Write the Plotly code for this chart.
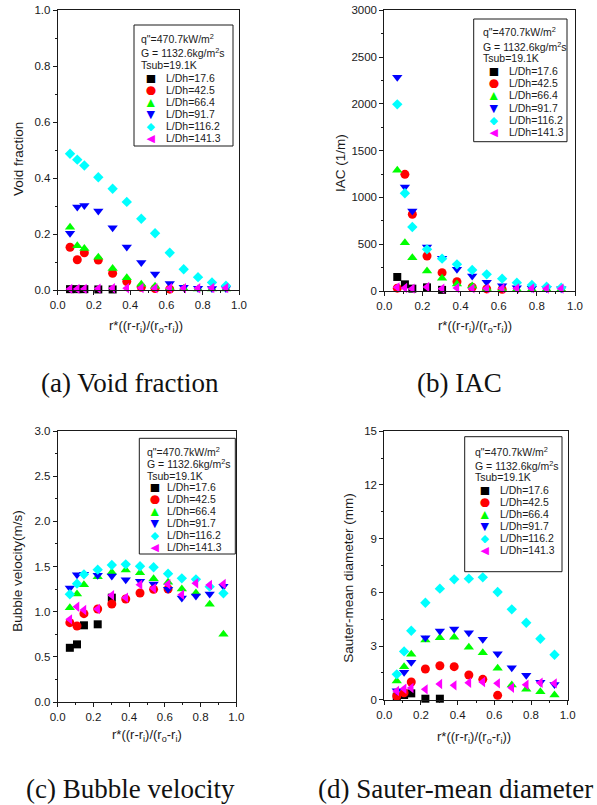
import plotly.graph_objects as go

r_star = [0.068, 0.108, 0.147, 0.224, 0.303, 0.381, 0.461, 0.537, 0.618, 0.695, 0.774, 0.851, 0.928]
series_names = ["L/Dh=17.6", "L/Dh=42.5", "L/Dh=66.4", "L/Dh=91.7", "L/Dh=116.2", "L/Dh=141.3"]
header_lines = ['q"=470.7kW/m<sup>2</sup>', 'G = 1132.6kg/m<sup>2</sup>s', 'Tsub=19.1K']

# Void fraction
void_176 = [0.003, 0.003, 0.003, 0.002, 0.002]
void_425 = [0.153, 0.108, 0.133, 0.107, 0.060, 0.030, 0.010, 0.005, 0.003]
void_664 = [0.224, 0.158, 0.148, 0.117, 0.077, 0.044, 0.021, 0.013, 0.006, 0.005, 0.004, 0.004, 0.004]
void_917 = [0.203, 0.297, 0.302, 0.282, 0.223, 0.154, 0.098, 0.057, 0.023, 0.010, 0.006, 0.005, 0.005]
void_1162 = [0.487, 0.466, 0.445, 0.403, 0.362, 0.315, 0.255, 0.203, 0.133, 0.074, 0.046, 0.027, 0.015]
void_1413 = [0.004, 0.004, 0.004, 0.005, 0.006, 0.006, 0.007, 0.006, 0.006, 0.006, 0.006, 0.007, 0.007]

# Interfacial area concentration (1/m)
iac_176 = [150, 71, 25, 39, 12]
iac_425 = [30, 1247, 820, 374, 196, 100, 40, 22, 18]
iac_664 = [1290, 517, 356, 214, 135, 75, 53, 28, 20, 18, 18, 18, 18]
iac_917 = [2284, 1112, 855, 470, 349, 232, 160, 93, 57, 36, 30, 26, 25]
iac_1162 = [1995, 1044, 684, 445, 346, 285, 224, 178, 132, 89, 64, 46, 36]
iac_1413 = [39, 32, 25, 43, 25, 32, 28, 28, 28, 28, 28, 25, 25]

# Bubble velocity (m/s)
vel_176 = [0.60, 0.638, 0.849, 0.86, 1.155]
vel_425 = [0.878, 0.841, 0.978, 1.03, 1.085, 1.140, 1.207, 1.247, 1.251]
vel_664 = [1.044, 1.196, 1.299, 1.387, 1.435, 1.461, 1.432, 1.365, 1.325, 1.251, 1.207, 1.081, 0.749]
vel_917 = [1.262, 1.41, 1.413, 1.402, 1.395, 1.354, 1.336, 1.306, 1.247, 1.151, 1.173, 1.196, 1.28]
vel_1162 = [1.192, 1.310, 1.413, 1.465, 1.517, 1.524, 1.502, 1.491, 1.421, 1.369, 1.358, 1.277, 1.203]
vel_1413 = [0.915, 1.055, 1.018, 1.03, 1.181, 1.155, 1.299, 1.258, 1.303, 1.188, 1.314, 1.295, 1.306]

# Sauter-mean diameter (mm)
smd_176 = [0.168, 0.261, 0.354, 0.056, 0.056]
smd_425 = [0.205, 0.391, 0.988, 1.714, 1.90, 1.845, 1.379, 1.137, 0.242]
smd_664 = [1.04, 1.845, 2.534, 3.335, 3.466, 3.484, 2.925, 2.627, 1.752, 0.82, 0.578, 0.447, 0.261]
smd_917 = [0.503, 1.528, 2.087, 3.466, 3.839, 3.95, 3.745, 3.373, 2.571, 1.789, 1.36, 0.969, 0.85]
smd_1162 = [1.416, 2.70, 3.857, 5.42, 6.205, 6.727, 6.764, 6.839, 6.019, 5.05, 4.30, 3.41, 2.516]
smd_1413 = [0.484, 0.615, 0.652, 0.578, 0.876, 0.801, 0.95, 0.988, 0.913, 0.671, 0.839, 0.95, 0.913]

x_ticks = [0.0, 0.2, 0.4, 0.6, 0.8, 1.0]
x_tick_labels = ["0.0", "0.2", "0.4", "0.6", "0.8", "1.0"]

colors = ["#000000", "#FF0000", "#00FF00", "#0000FF", "#00FFFF", "#FF00FF"]
symbols = ["square", "circle", "triangle-up", "triangle-down", "diamond", "triangle-left"]
sizes = [8, 9, 9, 9, 8, 9]
glyphs = ["\u25A0", "\u25CF", "\u25B2", "\u25BC", "\u25C6", "\u25C0"]
glyph_sizes = [11, 12, 11, 11, 11, 11]

XT = "r*((r-r<sub>i</sub>)/(r<sub>o</sub>-r<sub>i</sub>))"
panels = [
    dict(data=[void_176, void_425, void_664, void_917, void_1162, void_1413],
         ytitle="Void fraction", yrange=[0, 1.0], ydtick=0.2, yfmt=".1f",
         px=(57.7, 239.0), py=(10.3, 290.0),
         xtitle=XT, xt_pos=(146, 326), yt_pos=(18, 159),
         box=(134, 25, 233, 146), hx=140, hy=[38, 53, 65.5], sx=151, lx=165, ey0=78.3, estep=11.9,
         caption="(a) Void fraction", cap=(130, 383)),
    dict(data=[iac_176, iac_425, iac_664, iac_917, iac_1162, iac_1413],
         ytitle="IAC (1/m)", yrange=[0, 3000], ydtick=500, yfmt="d",
         px=(384.3, 575.0), py=(10.3, 291.0),
         xtitle=XT, xt_pos=(475, 326), yt_pos=(340, 163),
         box=(473.7, 19, 567, 141.7), hx=482, hy=[31.7, 46.7, 58.5], sx=493.7, lx=508, ey0=70.7, estep=12.3,
         caption="(b) IAC", cap=(459, 383)),
    dict(data=[vel_176, vel_425, vel_664, vel_917, vel_1162, vel_1413],
         ytitle="Bubble velocity(m/s)", yrange=[0, 3.0], ydtick=0.5, yfmt=".1f",
         px=(57.7, 236.3), py=(431.0, 702.0),
         xtitle="r*((r-r<sub>i</sub>)/(r<sub>o</sub>-r<sub>i</sub>)", xt_pos=(147, 735), yt_pos=(18, 570.7),
         box=(139.3, 438.3, 235.3, 554), hx=146, hy=[451.7, 463.3, 475.5], sx=155, lx=165.7, ey0=487.3, estep=11.9,
         caption="(c) Bubble velocity", cap=(130, 789)),
    dict(data=[smd_176, smd_425, smd_664, smd_917, smd_1162, smd_1413],
         ytitle="Sauter-mean diameter (mm)", yrange=[0, 15], ydtick=3, yfmt="d",
         px=(384.3, 567.7), py=(431.3, 699.7),
         xtitle=XT, xt_pos=(474, 737), yt_pos=(349, 577.7),
         box=(464.7, 436.7, 562, 571.7), hx=473.7, hy=[451.7, 465, 477], sx=485.3, lx=498.7, ey0=490, estep=11.9,
         caption="(d) Sauter-mean diameter", cap=(455, 789)),
]

W, H = 597, 805
ARIAL = "Arial, Liberation Sans, sans-serif"
INK = "#1a1a1a"


def fx(v):
    return v / W


def fy(v):
    return 1 - v / H


fig = go.Figure()
layout = dict(width=W, height=H, margin=dict(l=0, r=0, t=0, b=0),
              paper_bgcolor="white", plot_bgcolor="white", showlegend=False)
annotations = []
shapes = []
axfont = dict(family=ARIAL, size=11.5, color=INK)

for i, p in enumerate(panels):
    n = i + 1
    xa = "x" if n == 1 else f"x{n}"
    ya = "y" if n == 1 else f"y{n}"
    for k, vals in enumerate(p["data"]):
        fig.add_trace(go.Scatter(
            x=r_star[:len(vals)], y=vals, mode="markers", name=series_names[k],
            xaxis=xa, yaxis=ya,
            marker=dict(symbol=symbols[k], color=colors[k], size=sizes[k], line=dict(width=0)),
            cliponaxis=False))
    common = dict(showline=True, linecolor=INK, linewidth=1, mirror=True,
                  ticks="outside", ticklen=4, tickcolor=INK, showgrid=False,
                  zeroline=False, tickfont=axfont, automargin=False)
    layout["xaxis" if n == 1 else f"xaxis{n}"] = dict(
        common, domain=[fx(p["px"][0]), fx(p["px"][1])], range=[0, 1.0],
        tickvals=x_ticks, ticktext=x_tick_labels,
        minor=dict(ticks="outside", ticklen=2, dtick=0.1, tickcolor=INK),
        anchor=ya)
    layout["yaxis" if n == 1 else f"yaxis{n}"] = dict(
        common, domain=[fy(p["py"][1]), fy(p["py"][0])], range=p["yrange"],
        dtick=p["ydtick"], tick0=0, tickformat=p["yfmt"], anchor=xa,
        minor=dict(ticks="outside", ticklen=2, dtick=p["ydtick"] / 2, tickcolor=INK))

    # axis titles
    annotations.append(dict(text=p["xtitle"], x=fx(p["xt_pos"][0]), y=fy(p["xt_pos"][1]),
                            xref="paper", yref="paper", showarrow=False,
                            xanchor="center", yanchor="middle",
                            font=dict(family=ARIAL, size=13, color=INK)))
    annotations.append(dict(text=p["ytitle"], x=fx(p["yt_pos"][0]), y=fy(p["yt_pos"][1]),
                            xref="paper", yref="paper", showarrow=False, textangle=-90,
                            xanchor="center", yanchor="middle",
                            font=dict(family=ARIAL, size=13.5, color=INK)))

    # legend box
    bx0, by0, bx1, by1 = p["box"]
    shapes.append(dict(type="rect", xref="paper", yref="paper",
                       x0=fx(bx0), x1=fx(bx1), y0=fy(by1), y1=fy(by0),
                       line=dict(color=INK, width=1), fillcolor="white", layer="above"))
    for j, line in enumerate(header_lines):
        annotations.append(dict(text=line, x=fx(p["hx"]), y=fy(p["hy"][j]),
                                xref="paper", yref="paper", showarrow=False,
                                xanchor="left", yanchor="middle", borderpad=0,
                                font=dict(family=ARIAL, size=10.5, color=INK)))
    for k, name in enumerate(series_names):
        yy = p["ey0"] + k * p["estep"]
        annotations.append(dict(text=glyphs[k], x=fx(p["sx"]), y=fy(yy),
                                xref="paper", yref="paper", showarrow=False,
                                xanchor="center", yanchor="middle", borderpad=0,
                                height=10, width=12, valign="middle",
                                font=dict(family="DejaVu Sans", size=glyph_sizes[k], color=colors[k])))
        annotations.append(dict(text=name, x=fx(p["lx"]), y=fy(yy),
                                xref="paper", yref="paper", showarrow=False,
                                xanchor="left", yanchor="middle", borderpad=0,
                                height=11.5, valign="middle",
                                font=dict(family=ARIAL, size=10.5, color=INK)))

    annotations.append(dict(
        text=p["caption"], x=fx(p["cap"][0]), y=fy(p["cap"][1]), xref="paper", yref="paper",
        showarrow=False, xanchor="center", yanchor="middle",
        font=dict(family="Liberation Serif, Times New Roman, serif", size=27, color="#111")))

layout["annotations"] = annotations
layout["shapes"] = shapes
fig.update_layout(**layout)
fig.write_html("out.html", config={"displayModeBar": False},
               post_script="document.body.style.margin='0';document.body.style.overflow='hidden';")
